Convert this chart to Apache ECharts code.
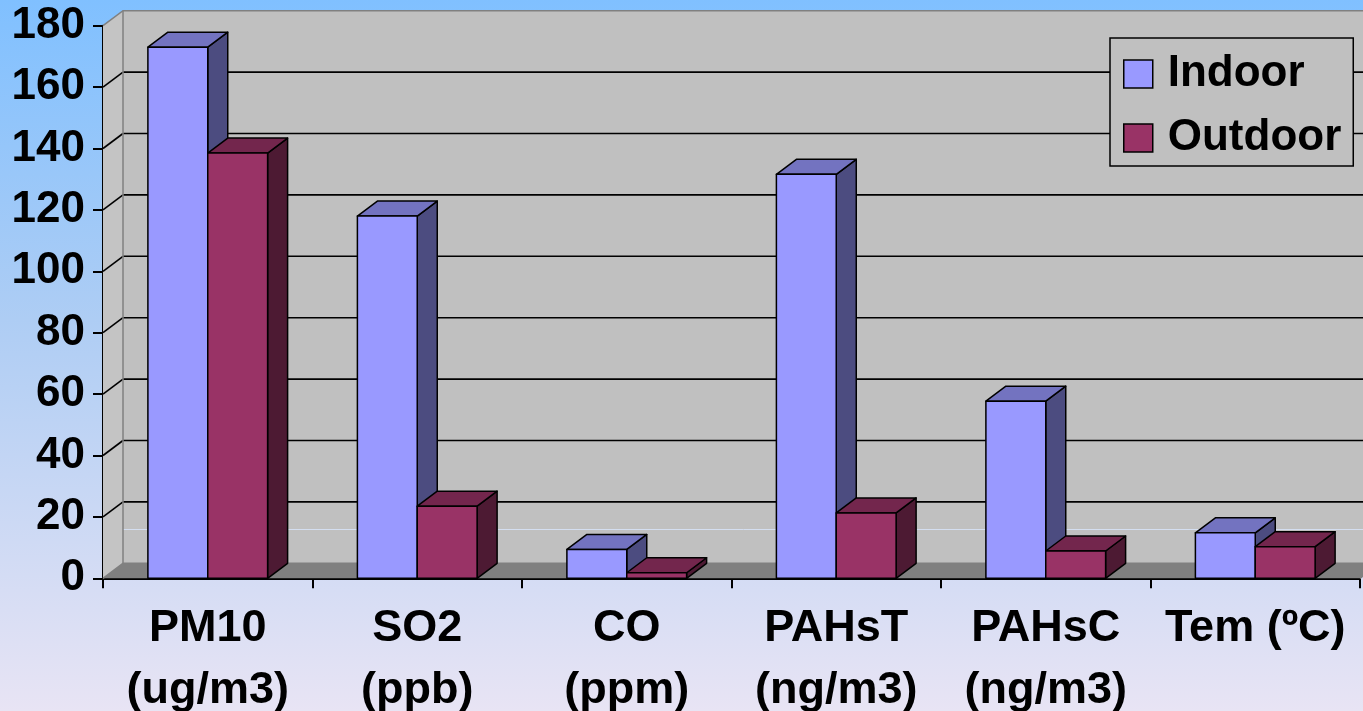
<!DOCTYPE html>
<html>
<head>
<meta charset="utf-8">
<script src="https://cdn.jsdelivr.net/npm/echarts@6/dist/echarts.min.js"></script>
<style>
  html, body { margin: 0; padding: 0; overflow: hidden; width: 1363px; height: 711px; }
  #chart { width: 1363px; height: 711px; }
</style>
</head>
<body>
<div id="chart"></div>
<script>
// Pollutant categories (two-line labels)
const categories = ['PM10\n(ug/m3)', 'SO2\n(ppb)', 'CO\n(ppm)', 'PAHsT\n(ng/m3)', 'PAHsC\n(ng/m3)', 'Tem (ºC)'];
const seriesNames = ['Indoor', 'Outdoor'];
const indoor = [173, 118, 9.4, 131.6, 57.7, 14.8];
const outdoor = [138.5, 23.5, 1.8, 21.3, 8.9, 10.3];
const yTicks = [0, 20, 40, 60, 80, 100, 120, 140, 160, 180];

// Pseudo-3D depth offset (pixels)
const DX = 20, DY = -15;
const FONT = '"Liberation Sans", Arial, sans-serif';

const palette = {
  Indoor: { front: '#9999FF', top: '#7373C0', side: '#4C4C80' },
  Outdoor: { front: '#993366', top: '#73264D', side: '#4D1A33' }
};

function boxRenderer(slot, shades) {
  return function (params, api) {
    const ci = api.value(0);
    const v = api.value(1);
    const base = api.coord([ci, 0]);
    const top = api.coord([ci, v]);
    const band = api.size([1, 0])[0];
    const w = band / 3.5;
    const xl = slot === 0 ? base[0] - w : base[0];
    const xr = xl + w;
    const yb = base[1], yt = top[1];
    const stroke = { stroke: '#000', lineWidth: 1.5, lineJoin: 'round' };
    return {
      type: 'group',
      children: [
        { type: 'polygon', shape: { points: [[xr, yt], [xr + DX, yt + DY], [xr + DX, yb + DY], [xr, yb]] },
          style: Object.assign({ fill: shades.side }, stroke) },
        { type: 'polygon', shape: { points: [[xl, yt], [xl + DX, yt + DY], [xr + DX, yt + DY], [xr, yt]] },
          style: Object.assign({ fill: shades.top }, stroke) },
        { type: 'rect', shape: { x: xl, y: yt, width: w, height: yb - yt },
          style: Object.assign({ fill: shades.front }, stroke) }
      ]
    };
  };
}

// Walls, floor and gridlines of the 3D frame
function frameRenderer(params, api) {
  const cs = params.coordSys;
  const x0 = cs.x, x1 = cs.x + cs.width;
  const yBot = api.coord([0, 0])[1];
  const yTop = api.coord([0, yTicks[yTicks.length - 1]])[1];
  const edge = { stroke: '#808080', lineWidth: 1.5 };
  const children = [
    { type: 'rect', shape: { x: x0 + DX, y: yTop + DY, width: x1 - x0 + 40, height: yBot - yTop },
      style: { fill: '#C0C0C0' } },
    { type: 'polygon', shape: { points: [[x0, yTop], [x0 + DX, yTop + DY], [x0 + DX, yBot + DY], [x0, yBot]] },
      style: { fill: '#C4C4C4' } },
    { type: 'polygon', shape: { points: [[x0, yBot], [x0 + DX, yBot + DY], [x1 + DX, yBot + DY], [x1, yBot]] },
      style: { fill: '#808080' } }
  ];
  // faint highlight line on the back wall
  const yh = api.coord([0, 11])[1] + DY;
  children.push({ type: 'line', shape: { x1: x0 + DX, y1: yh, x2: x1 + DX + 40, y2: yh },
    style: { stroke: '#D4DEF0', lineWidth: 1 } });
  yTicks.forEach(function (t, i) {
    if (i === 0 || i === yTicks.length - 1) return;
    const y = api.coord([0, t])[1];
    children.push({ type: 'line', shape: { x1: x0 + DX, y1: y + DY, x2: x1 + DX + 40, y2: y + DY },
      style: { stroke: '#000', lineWidth: 1.6 } });
    children.push({ type: 'line', shape: { x1: x0, y1: y, x2: x0 + DX, y2: y + DY },
      style: { stroke: '#000', lineWidth: 1.6 } });
  });
  // wall edges
  children.push({ type: 'polyline', shape: { points: [[x0, yTop], [x0 + DX, yTop + DY], [x1 + DX + 40, yTop + DY]] },
    style: Object.assign({ fill: null }, edge) });
  children.push({ type: 'line', shape: { x1: x0 + DX, y1: yTop + DY, x2: x0 + DX, y2: yBot + DY }, style: edge });
  children.push({ type: 'polyline', shape: { points: [[x0, yBot], [x0 + DX, yBot + DY], [x1 + DX, yBot + DY], [x1, yBot]] },
    style: Object.assign({ fill: null }, edge) });
  return { type: 'group', children: children };
}

const chart = echarts.init(document.getElementById('chart'), null, { renderer: 'canvas', width: 1363, height: 711 });

chart.setOption({
  animation: false,
  backgroundColor: {
    type: 'linear', x: 0, y: 0, x2: 0, y2: 1,
    colorStops: [
      { offset: 0, color: '#80C0FF' },
      { offset: 0.45, color: '#AECDF4' },
      { offset: 1, color: '#E8E4F4' }
    ]
  },
  textStyle: { fontFamily: FONT },
  grid: { left: 103, right: 3, top: 25.7, bottom: 132.7, outerBoundsMode: 'none', containLabel: false },
  legend: {
    data: seriesNames,
    orient: 'vertical',
    left: 1110, top: 38,
    padding: [11, 12, 3, 13],
    itemGap: 14,
    itemWidth: 29, itemHeight: 28,
    icon: 'rect',
    backgroundColor: '#C0C0C0',
    borderColor: '#000', borderWidth: 1.5,
    itemStyle: { borderColor: '#000', borderWidth: 1.5 },
    textStyle: { fontFamily: FONT, fontSize: 44, fontWeight: 'bold', color: '#000', lineHeight: 50, padding: [0, 0, 0, 10] }
  },
  xAxis: {
    type: 'category',
    data: categories,
    axisLine: { lineStyle: { color: '#000', width: 2 } },
    axisTick: { show: true, length: 10, lineStyle: { color: '#000', width: 2 } },
    axisLabel: { fontFamily: FONT, fontSize: 45, fontWeight: 'bold', color: '#000', lineHeight: 62, margin: 19, interval: 0 },
    splitLine: { show: false }
  },
  yAxis: {
    type: 'value',
    min: 0, max: 180, interval: 20,
    axisLine: { show: true, lineStyle: { color: '#000', width: 2 } },
    axisTick: { show: true, length: 10, lineStyle: { color: '#000', width: 2 } },
    axisLabel: { fontFamily: FONT, fontSize: 44, fontWeight: 'bold', color: '#000', margin: 18 },
    splitLine: { show: false }
  },
  series: [
    {
      name: 'frame', type: 'custom', clip: false, silent: true, z: 1,
      renderItem: frameRenderer,
      data: [[0, 0]]
    },
    {
      name: 'Indoor', type: 'custom', clip: false, z: 2,
      itemStyle: { color: palette.Indoor.front },
      renderItem: boxRenderer(0, palette.Indoor),
      data: indoor.map(function (v, i) { return [i, v]; })
    },
    {
      name: 'Outdoor', type: 'custom', clip: false, z: 3,
      itemStyle: { color: palette.Outdoor.front },
      renderItem: boxRenderer(1, palette.Outdoor),
      data: outdoor.map(function (v, i) { return [i, v]; })
    }
  ]
});
</script>
</body>
</html>
